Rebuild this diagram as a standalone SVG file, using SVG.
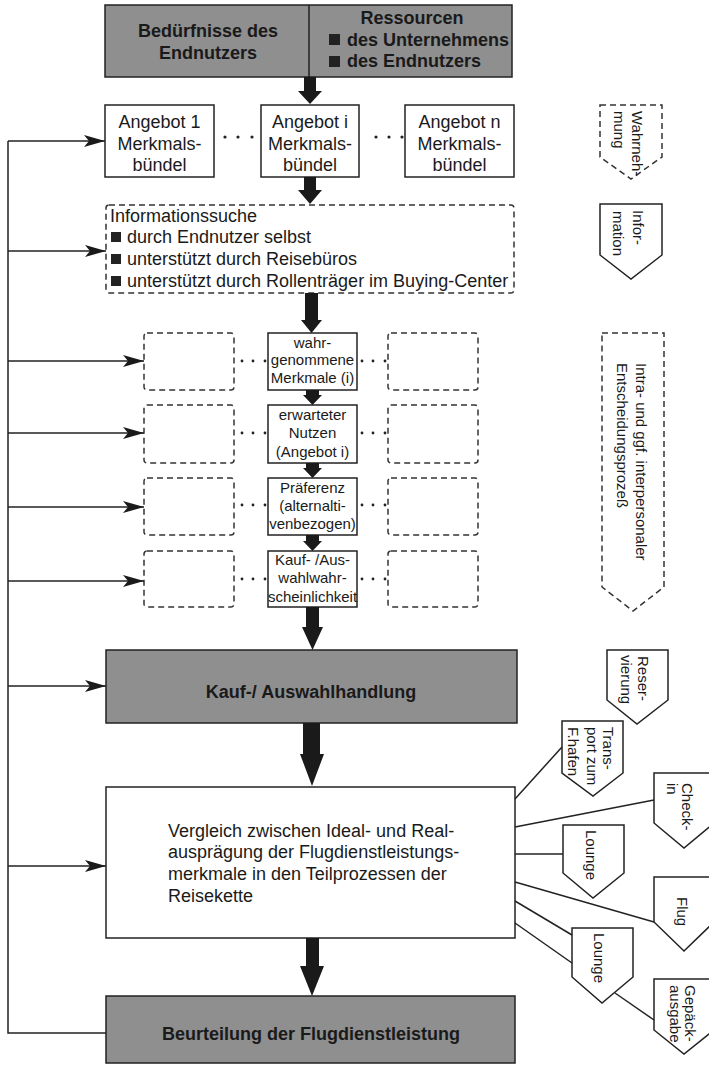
<svg xmlns="http://www.w3.org/2000/svg" width="709" height="1065" viewBox="0 0 709 1065">
<style>
.box{fill:#fff;stroke:#222;stroke-width:1.5}
.dash{fill:#fff;stroke:#333;stroke-width:1.5;stroke-dasharray:6 4}
.gray{fill:#8f8f8f;stroke:#222;stroke-width:1.5}
.t{font-family:"Liberation Sans",Arial,sans-serif;font-size:18px;fill:#1a1a1a}
.b{font-weight:bold}
.s{font-size:15px}
.m{text-anchor:middle}
.ln{stroke:#222;stroke-width:1.5;fill:none}
.thick{fill:#1a1a1a}
.dot{fill:#222}
</style>
<defs>
<marker id="ah" markerUnits="userSpaceOnUse" markerWidth="22" markerHeight="12" refX="21" refY="6" orient="auto">
<path d="M0,0 L21,6 L0,12 L5,6 Z" fill="#1a1a1a"/>
</marker>
</defs>

<g id="header">
<rect class="gray" x="105" y="5" width="407" height="72"/>
<line class="ln" x1="309" y1="5" x2="309" y2="77"/>
<text class="t b m" x="208" y="37">Bedürfnisse des</text>
<text class="t b m" x="208" y="59">Endnutzers</text>
<text class="t b m" x="412" y="24">Ressourcen</text>
<rect class="dot" x="329" y="34" width="11" height="11"/>
<text class="t b" x="347" y="46">des Unternehmens</text>
<rect class="dot" x="329" y="56" width="11" height="11"/>
<text class="t b" x="347" y="67">des Endnutzers</text>
</g>

<g id="angebot1">
<rect class="box" x="105" y="105" width="109" height="72"/>
<text class="t m" x="159.5" y="128">Angebot 1</text>
<text class="t m" x="159.5" y="150">Merkmals-</text>
<text class="t m" x="159.5" y="171">bündel</text>
</g>
<g id="angeboti">
<rect class="box" x="261" y="105" width="98" height="72"/>
<text class="t m" x="310" y="128">Angebot i</text>
<text class="t m" x="310" y="150">Merkmals-</text>
<text class="t m" x="310" y="171">bündel</text>
</g>
<g id="angebotn">
<rect class="box" x="405" y="105" width="109" height="72"/>
<text class="t m" x="459.5" y="128">Angebot n</text>
<text class="t m" x="459.5" y="150">Merkmals-</text>
<text class="t m" x="459.5" y="171">bündel</text>
</g>

<g id="info">
<rect class="dash" x="106" y="205" width="408" height="88" rx="3"/>
<text class="t" x="110" y="222">Informationssuche</text>
<rect class="dot" x="111" y="232" width="10" height="10"/>
<text class="t" x="127" y="243">durch Endnutzer selbst</text>
<rect class="dot" x="111" y="254" width="10" height="10"/>
<text class="t" x="127" y="265">unterstützt durch Reisebüros</text>
<rect class="dot" x="111" y="276" width="10" height="10"/>
<text class="t" x="127" y="287">unterstützt durch Rollenträger im Buying-Center</text>
</g>

<g id="row1">
<rect class="dash" x="144" y="333" width="90" height="57" rx="3"/>
<rect class="box" x="268" y="333" width="89" height="57"/>
<rect class="dash" x="388" y="333" width="90" height="57" rx="3"/>
<text class="t s m" x="312.5" y="348">wahr-</text>
<text class="t s m" x="312.5" y="365">genommene</text>
<text class="t s m" x="312.5" y="383">Merkmale (i)</text>
</g>
<g id="row2">
<rect class="dash" x="144" y="405" width="90" height="58" rx="3"/>
<rect class="box" x="268" y="405" width="89" height="58"/>
<rect class="dash" x="388" y="405" width="90" height="58" rx="3"/>
<text class="t s m" x="312.5" y="420">erwarteter</text>
<text class="t s m" x="312.5" y="438">Nutzen</text>
<text class="t s m" x="312.5" y="457">(Angebot i)</text>
</g>
<g id="row3">
<rect class="dash" x="144" y="478" width="90" height="57" rx="3"/>
<rect class="box" x="268" y="478" width="89" height="57"/>
<rect class="dash" x="388" y="478" width="90" height="57" rx="3"/>
<text class="t s m" x="312.5" y="493">Präferenz</text>
<text class="t s m" x="312.5" y="511">(alternalti-</text>
<text class="t s m" x="312.5" y="529">venbezogen)</text>
</g>
<g id="row4">
<rect class="dash" x="144" y="551" width="90" height="56" rx="3"/>
<rect class="box" x="268" y="551" width="89" height="56"/>
<rect class="dash" x="388" y="551" width="90" height="56" rx="3"/>
<text class="t s m" x="312.5" y="565">Kauf- /Aus-</text>
<text class="t s m" x="312.5" y="583">wahlwahr-</text>
<text class="t s m" x="312.5" y="602">scheinlichkeit</text>
</g>

<g id="kauf">
<rect class="gray" x="106" y="650" width="411" height="73"/>
<text class="t b m" x="311" y="698">Kauf-/ Auswahlhandlung</text>
</g>

<g id="vergleich">
<rect class="box" x="106" y="787" width="409" height="151"/>
<text class="t" x="168" y="837">Vergleich zwischen Ideal- und Real-</text>
<text class="t" x="168" y="858">ausprägung der Flugdienstleistungs-</text>
<text class="t" x="168" y="880">merkmale in den Teilprozessen der</text>
<text class="t" x="168" y="902">Reisekette</text>
</g>

<g id="beurteilung">
<rect class="gray" x="106" y="996" width="409" height="67"/>
<text class="t b m" x="311" y="1040">Beurteilung der Flugdienstleistung</text>
</g>

<g id="p-wahrnehmung">
<path class="dash" d="M600,105 L662,105 L662,157 L631,179 L600,157 Z"/>
<text class="t s" transform="translate(632,111) rotate(90)">Wahrneh-</text>
<text class="t s" transform="translate(614,111) rotate(90)">mung</text>
</g>
<g id="p-information">
<path class="box" d="M600,204 L662,204 L662,255 L631,279 L600,255 Z"/>
<text class="t s" transform="translate(633,210) rotate(90)">Infor-</text>
<text class="t s" transform="translate(613,211) rotate(90)">mation</text>
</g>
<g id="p-intra">
<path class="dash" d="M602,333 L664,333 L664,587 L633,611 L602,587 Z"/>
<text class="t s" transform="translate(636,363) rotate(90)">Intra- und ggf. interpersonaler</text>
<text class="t s" transform="translate(617,363) rotate(90)">Entscheidungsprozeß</text>
</g>
<g id="p-reservierung">
<path class="box" d="M607,650 L668,650 L668,700 L637,724 L607,700 Z"/>
<text class="t s" transform="translate(638,656) rotate(90)">Reser-</text>
<text class="t s" transform="translate(621,655) rotate(90)">vierung</text>
</g>
<g id="p-transport">
<path class="box" d="M562,721 L623,721 L623,773 L593,796 L562,773 Z"/>
<text class="t s" transform="translate(603,727) rotate(90)">Trans-</text>
<text class="t s" transform="translate(587,727) rotate(90)">port zum</text>
<text class="t s" transform="translate(568,727) rotate(90)">F.hafen</text>
</g>
<g id="p-checkin">
<path class="box" d="M654,773 L714,773 L714,823 L684,848 L654,823 Z"/>
<text class="t s" transform="translate(682,783) rotate(90)">Check-</text>
<text class="t s" transform="translate(667,783) rotate(90)">in</text>
</g>
<g id="p-lounge1">
<path class="box" d="M563,825 L624,825 L624,873 L593,898 L563,873 Z"/>
<text class="t s" transform="translate(586,830) rotate(90)">Lounge</text>
</g>
<g id="p-flug">
<path class="box" d="M654,877 L714,877 L714,922 L684,951 L654,922 Z"/>
<text class="t s" transform="translate(677,897) rotate(90)">Flug</text>
</g>
<g id="p-lounge2">
<path class="box" d="M572,928 L633,928 L633,977 L602,1003 L572,977 Z"/>
<text class="t s" transform="translate(594,933) rotate(90)">Lounge</text>
</g>
<g id="p-gepaeck">
<path class="box" d="M654,979 L714,979 L714,1030 L684,1054 L654,1030 Z"/>
<text class="t s" transform="translate(685,985) rotate(90)">Gepäck-</text>
<text class="t s" transform="translate(670,985) rotate(90)">ausgabe</text>
</g>

<g id="connectors">
<path class="thick" d="M304,77 L316,77 L316,91 L322,91 L310,104 L298,91 L304,91 Z"/>
<path class="thick" d="M304,177 L316,177 L316,190 L322,190 L310,204 L298,190 L304,190 Z"/>
<path class="thick" d="M305,293 L318,293 L318,320 L322,320 L311.5,333 L301,320 L305,320 Z"/>
<path class="thick" d="M306,390 L319,390 L319,395 L322,395 L312.5,405 L303,395 L306,395 Z"/>
<path class="thick" d="M306,463 L319,463 L319,468 L322,468 L312.5,478 L303,468 L306,468 Z"/>
<path class="thick" d="M306,535 L319,535 L319,541 L322,541 L312.5,551 L303,541 L306,541 Z"/>
<path class="thick" d="M306,607 L319,607 L319,627 L323,627 L312.5,650 L302,627 L306,627 Z"/>
<path class="thick" d="M303,723 L320,723 L320,754 L324,754 L312,786 L300,754 L303,754 Z"/>
<path class="thick" d="M306,938 L319,938 L319,966 L324,966 L312,996 L300,966 L306,966 Z"/>
<g class="dot">
<circle cx="225" cy="137" r="1.6"/><circle cx="238" cy="137" r="1.6"/><circle cx="252" cy="137" r="1.6"/>
<circle cx="376" cy="137" r="1.6"/><circle cx="389" cy="137" r="1.6"/><circle cx="402" cy="137" r="1.6"/>
<circle cx="242" cy="361" r="1.4"/><circle cx="253" cy="361" r="1.4"/><circle cx="265" cy="361" r="1.4"/>
<circle cx="362" cy="361" r="1.4"/><circle cx="373" cy="361" r="1.4"/><circle cx="385" cy="361" r="1.4"/>
<circle cx="242" cy="433" r="1.4"/><circle cx="253" cy="433" r="1.4"/><circle cx="265" cy="433" r="1.4"/>
<circle cx="362" cy="433" r="1.4"/><circle cx="373" cy="433" r="1.4"/><circle cx="385" cy="433" r="1.4"/>
<circle cx="242" cy="505" r="1.4"/><circle cx="253" cy="505" r="1.4"/><circle cx="265" cy="505" r="1.4"/>
<circle cx="362" cy="505" r="1.4"/><circle cx="373" cy="505" r="1.4"/><circle cx="385" cy="505" r="1.4"/>
<circle cx="242" cy="579" r="1.4"/><circle cx="253" cy="579" r="1.4"/><circle cx="265" cy="579" r="1.4"/>
<circle cx="362" cy="579" r="1.4"/><circle cx="373" cy="579" r="1.4"/><circle cx="385" cy="579" r="1.4"/>
</g>
<polyline class="ln" points="106,1033 8,1033 8,141"/>
<line class="ln" x1="8" y1="141" x2="105" y2="141" marker-end="url(#ah)"/>
<line class="ln" x1="8" y1="251" x2="106" y2="251" marker-end="url(#ah)"/>
<line class="ln" x1="8" y1="361" x2="144" y2="361" marker-end="url(#ah)"/>
<line class="ln" x1="8" y1="433" x2="144" y2="433" marker-end="url(#ah)"/>
<line class="ln" x1="8" y1="507" x2="144" y2="507" marker-end="url(#ah)"/>
<line class="ln" x1="8" y1="581" x2="144" y2="581" marker-end="url(#ah)"/>
<line class="ln" x1="8" y1="686" x2="106" y2="686" marker-end="url(#ah)"/>
<line class="ln" x1="8" y1="866" x2="106" y2="866" marker-end="url(#ah)"/>
<line class="ln" x1="515" y1="799" x2="562" y2="747"/>
<line class="ln" x1="515" y1="827" x2="654" y2="800"/>
<line class="ln" x1="515" y1="854" x2="563" y2="854"/>
<line class="ln" x1="515" y1="882" x2="654" y2="922"/>
<line class="ln" x1="515" y1="901" x2="572" y2="935"/>
<line class="ln" x1="515" y1="923" x2="572" y2="963"/>
<line class="ln" x1="615" y1="993" x2="654" y2="1020"/>
</g>
</svg>
